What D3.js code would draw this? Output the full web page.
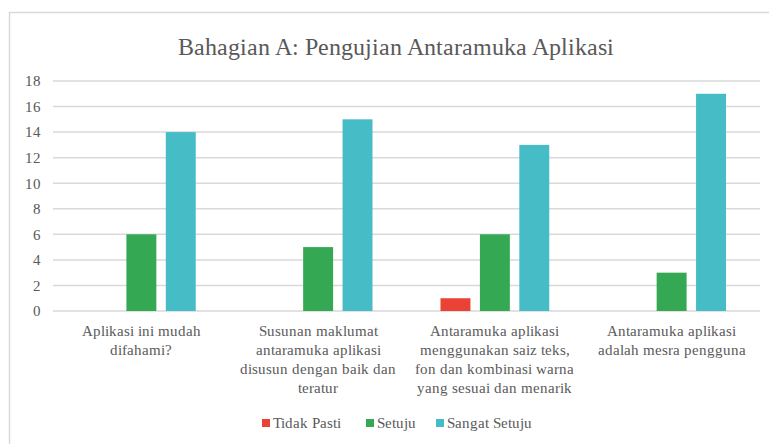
<!DOCTYPE html>
<html>
<head>
<meta charset="utf-8">
<script src="https://cdn.jsdelivr.net/npm/d3@7"></script>
<style>
  @font-face {
    font-family: 'ChartSerif';
    src: local('Liberation Serif'), local('LiberationSerif'), local('LiberationSerif-Regular');
  }
</style>
</head>
<body style="margin:0">
<svg id="canvas" width="769" height="444">
<text x="396" y="55" text-anchor="middle" font-family="ChartSerif, Liberation Serif, serif" font-size="24" fill="#595959">Bahagian A: Pengujian Antaramuka Aplikasi</text>
</svg>
<script>
// Chart data
var categories = [
  ['Aplikasi ini mudah', 'difahami?'],
  ['Susunan maklumat', 'antaramuka aplikasi', 'disusun dengan baik dan', 'teratur'],
  ['Antaramuka aplikasi', 'menggunakan saiz teks,', 'fon dan kombinasi warna', 'yang sesuai dan menarik'],
  ['Antaramuka aplikasi', 'adalah mesra pengguna']
];
var seriesNames = ['Tidak Pasti', 'Setuju', 'Sangat Setuju'];
var seriesColors = ['#ea4335', '#34a853', '#46bdc6'];
var tidakPasti = [0, 0, 1, 0];
var setuju = [6, 5, 6, 3];
var sangatSetuju = [14, 15, 13, 17];
var yTicks = [0, 2, 4, 6, 8, 10, 12, 14, 16, 18];

var plot = { left: 53, right: 760, top: 81, bottom: 311 };
var font = 'ChartSerif, Liberation Serif, serif';
var textColor = '#595959';

var svg = d3.select('#canvas');

// Chart frame, it runs past the picture on the right and bottom
svg.insert('rect', 'text')
  .attr('x', 9.5)
  .attr('y', 12.5)
  .attr('width', 800)
  .attr('height', 500)
  .attr('fill', '#fff')
  .attr('stroke', '#d9d9d9')
  .attr('stroke-width', 1.5);

var x0 = d3.scaleBand()
  .domain(d3.range(categories.length))
  .range([plot.left, plot.right])
  .paddingInner(0)
  .paddingOuter(0);

var x1 = d3.scaleBand()
  .domain(d3.range(seriesNames.length))
  .range([34, x0.bandwidth() - 34])
  .paddingInner(0.24);

var y = d3.scaleLinear()
  .domain([0, 18])
  .range([plot.bottom, plot.top]);

// Gridlines
svg.append('g')
  .selectAll('line')
  .data(yTicks)
  .enter()
  .append('line')
  .attr('x1', plot.left)
  .attr('x2', plot.right)
  .attr('y1', function(d) { return y(d); })
  .attr('y2', function(d) { return y(d); })
  .attr('stroke', '#d9d9d9')
  .attr('stroke-width', 1.5);

// Y axis labels
var yAxis = svg.append('g')
  .attr('transform', 'translate(' + (plot.left - 12) + ',0)')
  .call(d3.axisLeft(y).tickValues(yTicks).tickSize(0).tickPadding(0))
  .attr('font-family', font)
  .attr('font-size', 15);
yAxis.select('.domain').remove();
yAxis.selectAll('text')
  .attr('fill', textColor);

// Bars
var rows = categories.map(function(c, i) {
  return [tidakPasti[i], setuju[i], sangatSetuju[i]];
});

var groups = svg.append('g')
  .selectAll('g')
  .data(rows)
  .enter()
  .append('g')
  .attr('transform', function(d, i) { return 'translate(' + x0(i) + ',0)'; });

groups.selectAll('rect')
  .data(function(d) { return d; })
  .enter()
  .append('rect')
  .attr('x', function(d, j) { return x1(j); })
  .attr('y', function(d) { return y(d); })
  .attr('width', x1.bandwidth())
  .attr('height', function(d) { return y(0) - y(d); })
  .attr('fill', function(d, j) { return seriesColors[j]; });

// Category labels
var catLabels = svg.append('g')
  .selectAll('text')
  .data(categories)
  .enter()
  .append('text')
  .attr('x', function(d, i) { return x0(i) + x0.bandwidth() / 2; })
  .attr('y', 336)
  .attr('text-anchor', 'middle')
  .attr('font-family', font)
  .attr('font-size', 15)
  .attr('fill', textColor);

catLabels.selectAll('tspan')
  .data(function(d) { return d; })
  .enter()
  .append('tspan')
  .attr('x', function() { return d3.select(this.parentNode).attr('x'); })
  .attr('dy', function(d, i) { return i === 0 ? 0 : 19; })
  .text(function(d) { return d; });

// Legend
var legendX = [262, 366, 436];
var legend = svg.append('g')
  .selectAll('g')
  .data(seriesNames)
  .enter()
  .append('g')
  .attr('transform', function(d, i) { return 'translate(' + legendX[i] + ',428)'; });

legend.append('rect')
  .attr('x', 0)
  .attr('y', -9)
  .attr('width', 8)
  .attr('height', 8)
  .attr('fill', function(d, i) { return seriesColors[i]; });

legend.append('text')
  .attr('x', 11)
  .attr('y', 0)
  .attr('font-family', font)
  .attr('font-size', 15)
  .attr('fill', textColor)
  .text(function(d) { return d; });
</script>
</body>
</html>
